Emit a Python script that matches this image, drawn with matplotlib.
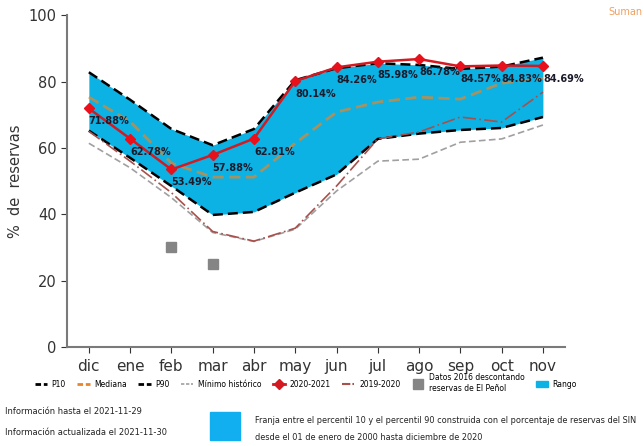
import numpy as np
import matplotlib
matplotlib.use("Agg")
import matplotlib.pyplot as plt
from matplotlib.patches import Rectangle, Patch
from matplotlib.lines import Line2D

# datos
meses = ["dic", "ene", "feb", "mar", "abr", "may", "jun", "jul", "ago", "sep", "oct", "nov"]
p10 = [65.2, 57.0, 48.5, 39.8, 40.7, 46.5, 52.0, 62.7, 64.3, 65.4, 66.0, 69.3]
p90 = [82.8, 74.5, 65.7, 60.8, 65.7, 80.4, 84.0, 85.5, 85.0, 83.8, 84.5, 87.2]
mediana = [75.3, 67.9, 55.4, 51.2, 51.2, 61.4, 70.8, 73.8, 75.3, 74.7, 79.5, 81.0]
minimo = [61.4, 54.0, 45.0, 34.5, 31.8, 35.5, 47.0, 56.0, 56.6, 61.7, 62.7, 66.9]
serie_1920 = [65.0, 56.0, 46.5, 34.8, 31.9, 35.8, 48.5, 62.7, 64.8, 69.3, 67.8, 76.8]
serie_2021 = [71.88, 62.78, 53.49, 57.88, 62.81, 80.14, 84.26, 85.98, 86.78, 84.57, 84.83, 84.69]
datos_2016_mes = [2, 3]
datos_2016 = [30.1, 25.0]

azul = "#0cb2e4"
x = np.arange(len(meses))

fig = plt.figure(figsize=(6.44, 4.46), dpi=100)
ax = fig.add_axes([0.104, 0.222, 0.773, 0.744])

ax.fill_between(x, p10, p90, color=azul, lw=0)
ax.plot(x, p10, color="black", ls=(0, (4, 2)), lw=1.8)
ax.plot(x, p90, color="black", ls=(0, (4, 2)), lw=1.8)
ax.plot(x, mediana, color="#e8852a", alpha=0.7, ls=(0, (4, 2)), lw=2)
ax.plot(x, minimo, color="#a0a0a0", ls=(0, (4, 2)), lw=1.2)
ax.plot(x, serie_1920, color="#a8504c", ls=(0, (8, 2, 1, 2)), lw=1.2)
ax.plot(x, serie_2021, color="#d21a22", lw=1.8, marker="D", ms=5,
        markerfacecolor="#e8101a", markeredgecolor="#e8101a")
ax.plot(datos_2016_mes, datos_2016, ls="none", marker="s", ms=7, color="#858585")

# etiquetas de porcentaje
for i, v in enumerate(serie_2021):
    ax.annotate("%.2f%%" % v, (x[i], v), xytext=(0, -13), textcoords="offset pixels",
                ha="left", va="center", fontsize=7, fontweight="bold", color="#1a1a2a")

ax.set_xlim(-0.53, 11.53)
ax.set_ylim(0, 100)
ax.set_xticks(x)
ax.set_xticklabels(meses, fontsize=11)
ax.set_yticks([0, 20, 40, 60, 80, 100])
ax.tick_params(axis="y", labelsize=10.5, colors="#333333", length=4)
ax.tick_params(axis="x", colors="#333333", length=4, pad=5)
for s in ["top", "right"]:
    ax.spines[s].set_visible(False)
for s in ["left", "bottom"]:
    ax.spines[s].set_color("#7a7a7a")
    ax.spines[s].set_linewidth(1.5)
ax.set_ylabel("%  de  reservas", fontsize=10.5, color="#333333", labelpad=4)

# leyenda
fam = ["Liberation Sans Narrow", "DejaVu Sans"]
handles = [
    Line2D([], [], color="black", ls=(0, (2, 1)), lw=2),
    Line2D([], [], color="#e8852a", ls=(0, (2, 1)), lw=2),
    Line2D([], [], color="black", ls=(0, (2, 1)), lw=2),
    Line2D([], [], color="#a0a0a0", ls=(0, (2, 1)), lw=1.2),
    Line2D([], [], color="#d21a22", lw=2, marker="D", ms=5),
    Line2D([], [], color="#a8504c", ls=(0, (4, 1, 1, 1)), lw=1.5),
    Line2D([], [], ls="none", marker="s", ms=7, color="#858585"),
    Patch(color=azul),
]
nombres = ["P10", "Mediana", "P90", "Mínimo histórico", "2020-2021", "2019-2020",
           "Datos 2016 descontando\nreservas de El Peñol", "Rango"]
fig.legend(handles, nombres, loc="center", bbox_to_anchor=(0.475, 0.141), ncol=8,
           frameon=False, prop={"family": fam, "size": 5.5}, handlelength=1.6,
           columnspacing=1.5, handletextpad=0.6)

fig.text(0.008, 0.078, "Información hasta el 2021-11-29", fontsize=6, family=fam, color="#222222", va="center")
fig.text(0.008, 0.031, "Información actualizada el 2021-11-30", fontsize=6, family=fam, color="#222222", va="center")
fig.patches.append(Rectangle((0.326, 0.013), 0.047, 0.063, transform=fig.transFigure,
                             color="#11aef0", figure=fig))
fig.text(0.396, 0.058, "Franja entre el percentil 10 y el percentil 90 construida con el porcentaje de reservas del SIN",
         fontsize=5.85, family=fam, color="#222222", va="center")
fig.text(0.396, 0.018, "desde el 01 de enero de 2000 hasta diciembre de 2020",
         fontsize=5.85, family=fam, color="#222222", va="center")
fig.text(0.997, 0.972, "Suman", fontsize=7, color="#f0a060", family=fam, va="center", ha="right")

fig.savefig("out.png", dpi=100)
